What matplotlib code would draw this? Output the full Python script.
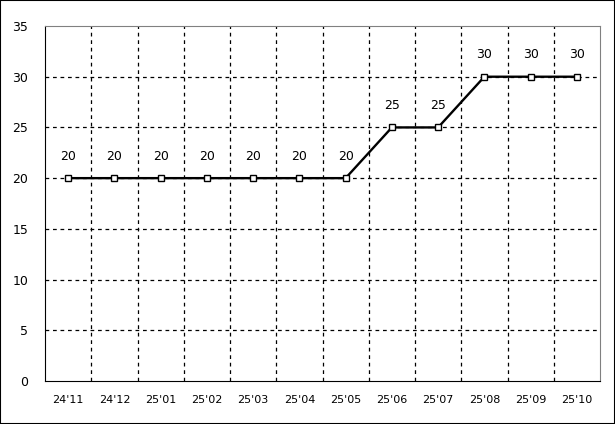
import numpy as np
import matplotlib.pyplot as plt
from matplotlib.patches import Rectangle

# data
months = ["24'11", "24'12", "25'01", "25'02", "25'03", "25'04",
          "25'05", "25'06", "25'07", "25'08", "25'09", "25'10"]
values = [20, 20, 20, 20, 20, 20, 20, 25, 25, 30, 30, 30]
yticks = [0, 5, 10, 15, 20, 25, 30, 35]

fig = plt.figure(figsize=(6.15, 4.24), dpi=100)
ax = fig.add_axes([45/615, 43/424, 555/615, 355/424])

x = np.arange(len(months))
ax.plot(x, values, color='black', lw=1.7, marker='s', ms=5,
        mfc='white', mec='black', mew=1, zorder=3)
for xi, v in zip(x, values):
    ax.annotate(str(v), (xi, v), xytext=(0, 11), textcoords='offset points',
                ha='center', va='bottom', fontsize=9)

ax.set_xlim(-0.5, len(months) - 0.5)
ax.set_ylim(0, 35)
ax.set_yticks(yticks)
ax.set_xticks(x)
ax.set_xticklabels(months, fontsize=8)
ax.tick_params(axis='y', labelsize=9, length=0, pad=12)
ax.tick_params(axis='x', length=0, pad=10)

# dashed grid: horizontal at y ticks, vertical at category boundaries
for y in yticks[1:-1]:
    ax.axhline(y, color='black', lw=0.9, ls=(0, (3, 3)), zorder=1)
for b in np.arange(0.5, len(months) - 1, 1):
    ax.axvline(b, color='black', lw=0.9, ls=(0, (3, 3)), zorder=1)

for s in ['top', 'right']:
    ax.spines[s].set_color('gray')
for s in ['left', 'bottom']:
    ax.spines[s].set_color('black')

fig.patches.append(Rectangle((0, 0), 1, 1, transform=fig.transFigure,
                             fill=False, ec='black', lw=1.5))

fig.savefig('out.png', dpi=100)
